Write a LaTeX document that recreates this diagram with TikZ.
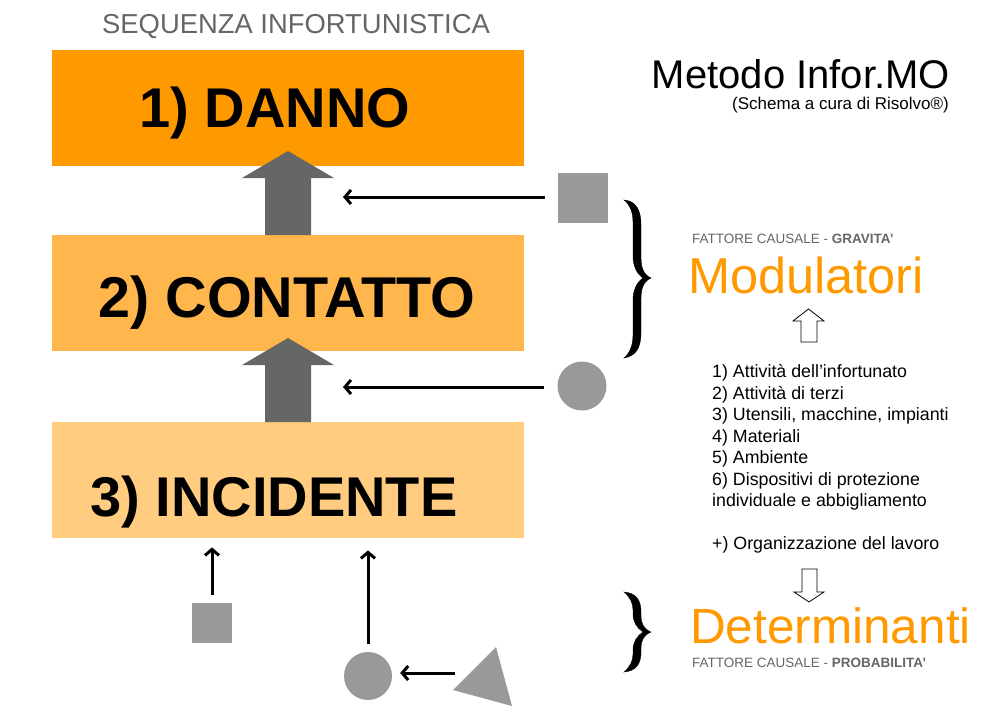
\documentclass[tikz,border=0pt]{standalone}
\usepackage{fontspec}
\setmainfont{Liberation Sans}
\usetikzlibrary{arrows.meta}
\definecolor{orA}{HTML}{FF9900}
\definecolor{orB}{HTML}{FFB74D}
\definecolor{orC}{HTML}{FFCC80}
\definecolor{gsh}{HTML}{999999}
\definecolor{gdk}{HTML}{666666}
\begin{document}
\begin{tikzpicture}[x=1pt,y=-1pt,
  stagebox/.style={fill=#1, draw=none, minimum width=472pt, minimum height=116pt, inner sep=0pt, anchor=north west},
  stagetext/.style={font=\bfseries\fontsize{56}{60}\selectfont, inner sep=0pt, anchor=base},
  blockarrow/.style={fill=gdk, draw=none},
  blk/.style={draw=black, line width=3pt, -{Straight Barb[length=6pt,width=14pt]}},
  hollow/.style={draw=black, line width=0.8pt, fill=white},
  shapebox/.style={fill=gsh, draw=none, minimum size=#1, inner sep=0pt},
  shapecirc/.style={fill=gsh, draw=none, circle, minimum size=#1, inner sep=0pt},
  small/.style={font=\fontsize{13.5}{16}\selectfont, text=gdk, inner sep=0pt, anchor=base west},
  big/.style={font=\fontsize{50.5}{56}\selectfont, text=orA, inner sep=0pt, anchor=base west},
  bracefill/.style={fill=black, draw=black, line width=0.4pt}
]
\useasboundingbox (0,0) rectangle (990,720);

% title
\node[font=\fontsize{27.4}{30}\selectfont, text=gdk, inner sep=0pt, anchor=base] (title) at (296,33) {SEQUENZA INFORTUNISTICA};

% stage boxes
\node[stagebox=orA] (b1) at (52,50) {};
\node[stagebox=orB] (b2) at (52,235) {};
\node[stagebox=orC] (b3) at (52,422) {};
\node[stagetext] (t1) at (275,127) {1) DANNO};
\node[stagetext, font=\bfseries\fontsize{57.5}{60}\selectfont] (t2) at (287,317) {2) CONTATTO};
\node[stagetext] (t3) at (274,516) {3) INCIDENTE};

% block arrows
\fill[blockarrow] (265,235) -- (265,178) -- (242,178) -- (288,151) -- (334,178) -- (311,178) -- (311,235) -- cycle;
\fill[blockarrow] (265,422) -- (265,365) -- (242,365) -- (288,338) -- (334,365) -- (311,365) -- (311,422) -- cycle;

% right side shapes
\node[shapebox=50pt] (sq1) at (583,198) {};
\node[shapecirc=49pt] (ci1) at (582,386) {};
\coordinate (e1) at (343,197);
\coordinate (e2) at (343,387);
\draw[blk, shorten <=13pt] (sq1.west |- e1) -- (e1);
\draw[blk, shorten <=13pt] (ci1.west |- e2) -- (e2);

% bottom shapes
\node[shapebox=40pt] (sq2) at (212,623) {};
\node[shapecirc=48pt] (ci2) at (368,676) {};
\coordinate (tA) at (453,690);
\coordinate (tB) at (496,647);
\coordinate (tC) at (512,706);
\fill[gsh] (tA) -- (tB) -- (tC) -- cycle;
\coordinate (tr) at (455,673);
\draw[blk, shorten <=8pt, shorten >=9pt] (sq2.north) -- (sq2.north |- b3.south);
\draw[blk, shorten <=8pt, shorten >=12pt] (ci2.north) -- (ci2.north |- b3.south);
\draw[blk, shorten >=8pt] (tr) -- (ci2.east |- tr);

% braces
\filldraw[bracefill] (624,200) .. controls (636,201) and (641,210) .. (641,225) -- (641,258)
  .. controls (641,268) and (644,275) .. (651,278)
  .. controls (644,281) and (641,288) .. (641,298) -- (641,332)
  .. controls (641,348) and (636,356) .. (624,358)
  .. controls (630,353) and (633,345) .. (633,335) -- (633,300)
  .. controls (633,290) and (637,282) .. (643,278)
  .. controls (637,274) and (633,266) .. (633,256) -- (633,222)
  .. controls (633,212) and (630,205) .. (624,200) -- cycle;
\filldraw[bracefill] (624,592) .. controls (636,593) and (641,600) .. (641,612) -- (641,616)
  .. controls (641,624) and (644,629) .. (651,632)
  .. controls (644,635) and (641,640) .. (641,648) -- (641,652)
  .. controls (641,664) and (636,671) .. (624,672)
  .. controls (630,667) and (633,661) .. (633,654) -- (633,650)
  .. controls (633,642) and (637,636) .. (643,632)
  .. controls (637,628) and (633,622) .. (633,614) -- (633,610)
  .. controls (633,603) and (630,597) .. (624,592) -- cycle;

% right texts
\node[font=\fontsize{40}{44}\selectfont, inner sep=0pt, anchor=base east] (meth) at (950,88) {Metodo Infor.MO};
\node[font=\fontsize{17}{20}\selectfont, inner sep=0pt, anchor=base east] (cura) at (949,109) {(Schema a cura di Risolvo®)};

\node[small] (f1) at (692,243) {FATTORE CAUSALE - \textbf{GRAVITA’}};
\node[big] (mod) at (688,293) {Modulatori};

\draw[hollow] (801,342) -- (801,321) -- (793,321) -- (808.5,309) -- (824,321) -- (817,321) -- (817,342) -- cycle;

\node[font=\fontsize{17.8}{21.5}\selectfont, align=left, inner sep=0pt, anchor=north west] (list) at (712,364.5) {1) Attività dell’infortunato\\2) Attività di terzi\\3) Utensili, macchine, impianti\\4) Materiali\\5) Ambiente\\6) Dispositivi di protezione\\individuale e abbigliamento\\[21.5pt]+) Organizzazione del lavoro};

\draw[hollow] (802,569) -- (802,592) -- (794,592) -- (809,602) -- (824,592) -- (817,592) -- (817,569) -- cycle;

\node[big, font=\fontsize{49.5}{56}\selectfont] (det) at (690,643) {Determinanti};
\node[small] (f2) at (692,667) {FATTORE CAUSALE - \textbf{PROBABILITA’}};
\end{tikzpicture}
\end{document}
